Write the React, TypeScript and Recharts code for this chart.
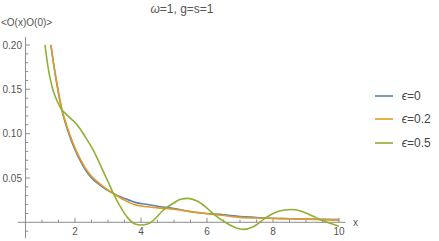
import { Legend, Line, LineChart, ReferenceLine, XAxis, YAxis } from "recharts";

const xsEps0 = [1.27, 1.35, 1.45, 1.6, 1.75, 1.88, 2.0, 2.15, 2.3, 2.5, 2.7, 2.9, 3.16, 3.5, 3.82, 4.2, 4.6, 5.0, 5.5, 6.0, 6.5, 7.0, 7.5, 8.0, 8.5, 9.0, 9.5, 10.0];
const eps0 = [0.2, 0.179, 0.156, 0.127, 0.107, 0.093, 0.082, 0.07, 0.06, 0.05, 0.0435, 0.038, 0.0326, 0.027, 0.0225, 0.02, 0.0175, 0.0155, 0.012, 0.01, 0.0085, 0.0065, 0.0055, 0.0045, 0.004, 0.0036, 0.0033, 0.003];
const eps02 = [0.2, 0.179, 0.157, 0.128, 0.109, 0.095, 0.084, 0.072, 0.062, 0.052, 0.045, 0.039, 0.0326, 0.025, 0.0197, 0.0175, 0.016, 0.0147, 0.012, 0.0097, 0.0077, 0.0056, 0.0048, 0.0043, 0.004, 0.0036, 0.003, 0.0025];

const xsEps05 = [1.09, 1.13, 1.17, 1.21, 1.26, 1.32, 1.39, 1.47, 1.55, 1.6, 1.7, 1.8, 1.9, 2.0, 2.1, 2.2, 2.3, 2.4, 2.5, 2.6, 2.8, 3.0, 3.16, 3.4, 3.6, 3.8, 4.0, 4.2, 4.4, 4.67, 5.0, 5.2, 5.42, 5.7, 6.0, 6.24, 6.55, 6.8, 7.1, 7.4, 7.76, 8.0, 8.3, 8.6, 8.9, 9.2, 9.5, 9.8, 10.0];
const eps05 = [0.2, 0.189, 0.178, 0.169, 0.16, 0.151, 0.143, 0.136, 0.13, 0.127, 0.123, 0.1195, 0.116, 0.1125, 0.108, 0.103, 0.097, 0.091, 0.085, 0.078, 0.062, 0.046, 0.0326, 0.016, 0.005, -0.0015, -0.003, -0.002, 0.003, 0.0136, 0.022, 0.026, 0.027, 0.024, 0.016, 0.008, 0.0, -0.005, -0.008, -0.005, 0.0045, 0.01, 0.0135, 0.0145, 0.012, 0.007, 0.002, -0.002, -0.0045];

const xMajor = [2, 4, 6, 8, 10];
const xMinor = [1, 1.5, 2.5, 3, 3.5, 4.5, 5, 5.5, 6.5, 7, 7.5, 8.5, 9, 9.5];
const yMajor = [0.05, 0.1, 0.15, 0.2];
const yMinor = [-0.01, 0.01, 0.02, 0.03, 0.04, 0.06, 0.07, 0.08, 0.09, 0.11, 0.12, 0.13, 0.14, 0.16, 0.17, 0.18, 0.19];

const toRows = (xs: number[], ys: number[]) => xs.map((x, i) => ({ x, y: ys[i] }));

const series = [
	{ name: "ϵ=0", color: "#5E81B5", data: toRows(xsEps0, eps0) },
	{ name: "ϵ=0.2", color: "#E19C24", data: toRows(xsEps0, eps02) },
	{ name: "ϵ=0.5", color: "#8FB032", data: toRows(xsEps05, eps05) },
];

const AXIS = "#8c8c8c";
const TEXT = "#555";

function LegendBox({ payload }: any) {
	return (
		<div>
			{(payload ?? []).map((p: any) => (
				<div key={p.value} style={{ display: "flex", alignItems: "center", height: 23.5 }}>
					<svg width={18} height={4}>
						<line x1={0} y1={2} x2={18} y2={2} stroke={p.color} strokeWidth={1.6} />
					</svg>
					<span style={{ marginLeft: 8.7, fontSize: 12, color: "#444" }}>
						<i>{String(p.value).slice(0, 1)}</i>
						{String(p.value).slice(1)}
					</span>
				</div>
			))}
		</div>
	);
}

function XTick({ x, y, payload }: any) {
	return (
		<text x={x} y={y - 3} textAnchor="middle" fontSize={10} fill={TEXT}>
			{payload.value}
		</text>
	);
}

export default function App() {
	return (
		<div style={{ position: "absolute", left: 0, top: 0, fontFamily: "'Liberation Sans', Arial, sans-serif" }}>
			<LineChart width={439} height={241} margin={{ top: 37, right: 93.4, bottom: 0, left: 5.5 }}>
				<XAxis
					type="number"
					dataKey="x"
					domain={[0.5, 10.2]}
					allowDataOverflow
					ticks={xMajor}
					interval={0}
					axisLine={false}
					tickLine={false}
					tickSize={0}
					tickMargin={0}
					height={3}
					tick={<XTick />}
				/>
				<YAxis
					type="number"
					domain={[-0.0177, 0.209]}
					allowDataOverflow
					ticks={yMajor}
					tickFormatter={(v: number) => v.toFixed(2)}
					axisLine={{ stroke: AXIS }}
					tickLine={false}
					tickSize={0}
					tickMargin={3.5}
					width={20}
					tick={{ fontSize: 10, fill: TEXT }}
				/>
				<ReferenceLine
					segment={[{ x: 0.27, y: 0 }, { x: 10.2, y: 0 }]}
					stroke={AXIS}
					ifOverflow="visible"
				/>
				{xMajor.map((v) => (
					<ReferenceLine key={"xM" + v} segment={[{ x: v, y: 0 }, { x: v, y: 0.0051 }]} stroke={AXIS} ifOverflow="visible" />
				))}
				{xMinor.map((v) => (
					<ReferenceLine key={"xm" + v} segment={[{ x: v, y: 0 }, { x: v, y: 0.003 }]} stroke={AXIS} ifOverflow="visible" />
				))}
				{yMajor.map((v) => (
					<ReferenceLine key={"yM" + v} segment={[{ x: 0.5, y: v }, { x: 0.636, y: v }]} stroke={AXIS} ifOverflow="visible" />
				))}
				{yMinor.map((v) => (
					<ReferenceLine key={"ym" + v} segment={[{ x: 0.5, y: v }, { x: 0.582, y: v }]} stroke={AXIS} ifOverflow="visible" />
				))}
				{series.map((s) => (
					<Line
						key={s.name}
						data={s.data}
						dataKey="y"
						name={s.name}
						type="monotone"
						stroke={s.color}
						strokeWidth={1.6}
						dot={false}
						isAnimationActive={false}
					/>
				))}
				<Legend
					layout="vertical"
					align="center"
					verticalAlign="middle"
					wrapperStyle={{ left: 375, top: 84, width: "auto" }}
					content={<LegendBox />}
				/>
				<text x={182} y={13} textAnchor="middle" fontSize={12} fill={TEXT}>
					<tspan fontStyle="italic">ω</tspan>=1, g=s=1
				</text>
				<text x={1} y={25.5} fontSize={10} fill={TEXT}>
					{"<O(x)O(0)>"}
				</text>
				<text x={353} y={225.5} fontSize={10} fill={TEXT}>
					x
				</text>
			</LineChart>
		</div>
	);
}
